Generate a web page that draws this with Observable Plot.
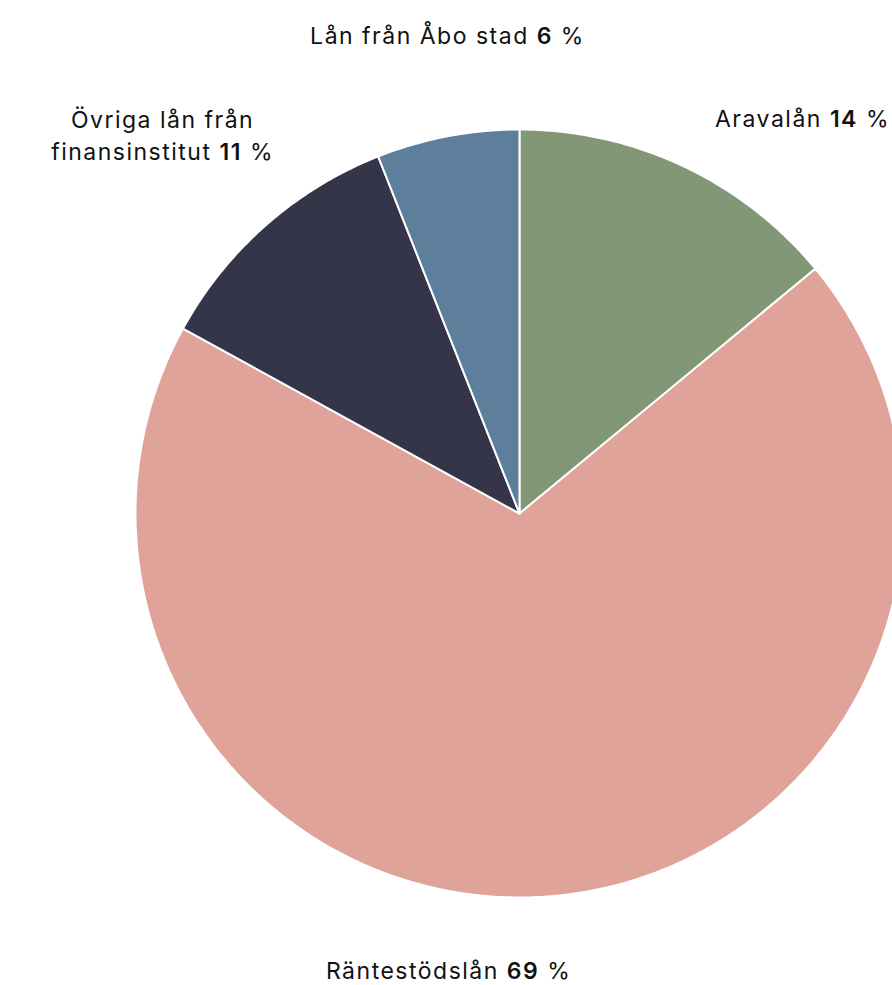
<!DOCTYPE html>
<html><head><meta charset="utf-8">
<script src="https://cdn.jsdelivr.net/npm/d3@7"></script>
<script src="https://cdn.jsdelivr.net/npm/@observablehq/plot@0.6"></script>
<style>body{margin:0;background:#fff;overflow:hidden} .pielabel text{letter-spacing:1.5px}</style>
</head><body><div id="chart"></div>
<script>
// ---- data ----
const categories = ["Aravalån", "Räntestödslån", "Övriga lån från finansinstitut", "Lån från Åbo stad"];
const labelNames = ["Aravalån", "Räntestödslån", "Övriga lån från\nfinansinstitut", "Lån från Åbo stad"];
const shares = [14, 69, 11, 6];
const colors = ["#819775", "#e0a399", "#35354a", "#5e7f9b"];

// ---- layout (styling only) ----
const labelStyle = [
  {anchor: "start", dx: 32, dy: -49},
  {anchor: "middle", dx: -107, dy: 73},
  {anchor: "middle", dx: -103, dy: -92},
  {anchor: "middle", dx: 0, dy: -103}
];

const arcs = d3.pie().sort(null).value(d => d)(shares);
const slicePts = [];
arcs.forEach((a, i) => {
  const cat = categories[i];
  slicePts.push({cat, x: 0, y: 0});
  const n = Math.max(8, Math.ceil((a.endAngle - a.startAngle) / 0.01));
  for (let k = 0; k <= n; k++) {
    const t = a.startAngle + (a.endAngle - a.startAngle) * k / n;
    slicePts.push({cat, x: Math.sin(t), y: Math.cos(t)});
  }
  slicePts.push({cat, x: 0, y: 0});
});
const labels = arcs.map((a, i) => {
  const m = (a.startAngle + a.endAngle) / 2;
  return {i, cat: categories[i], text: `${labelNames[i]} ${shares[i]} %`, x: Math.sin(m), y: Math.cos(m)};
});

const marks = [];
categories.forEach((c, i) => {
  marks.push(Plot.line(slicePts.filter(d => d.cat === c), {
    x: "x", y: "y", fill: colors[i], stroke: "#fff", strokeWidth: 2, strokeLinejoin: "round"
  }));
});
labels.forEach((l, i) => {
  const s = labelStyle[i];
  marks.push(Plot.text([l], {
    x: "x", y: "y", text: "text", textAnchor: s.anchor, dx: s.dx, dy: s.dy,
    lineAnchor: "middle", lineHeight: 1.4, fontSize: 23, fill: "#111", className: "pielabel"
  }));
});

const chart = Plot.plot({
  width: 892, height: 985,
  margin: 0,
  style: {fontFamily: "Inter, 'Noto Sans', sans-serif", background: "#fff", overflow: "visible"},
  x: {domain: [-1, 1], range: [135, 903], axis: null},
  y: {domain: [-1, 1], range: [897, 129], axis: null},
  marks
});
document.getElementById("chart").append(chart);

// bold the numeric part of labels
chart.querySelectorAll("text").forEach(t => {
  const walker = document.createTreeWalker(t, NodeFilter.SHOW_TEXT);
  const nodes = [];
  while (walker.nextNode()) nodes.push(walker.currentNode);
  nodes.forEach(n => {
    const m = n.data.match(/^(.*?)(\d+)( %)$/);
    if (!m) return;
    const ns = "http://www.w3.org/2000/svg";
    const b = document.createElementNS(ns, "tspan");
    b.setAttribute("font-weight", "600");
    b.textContent = m[2];
    const p = n.parentNode;
    p.insertBefore(document.createTextNode(m[1]), n);
    p.insertBefore(b, n);
    p.insertBefore(document.createTextNode(m[3]), n);
    p.removeChild(n);
  });
});
</script>
</body></html>
